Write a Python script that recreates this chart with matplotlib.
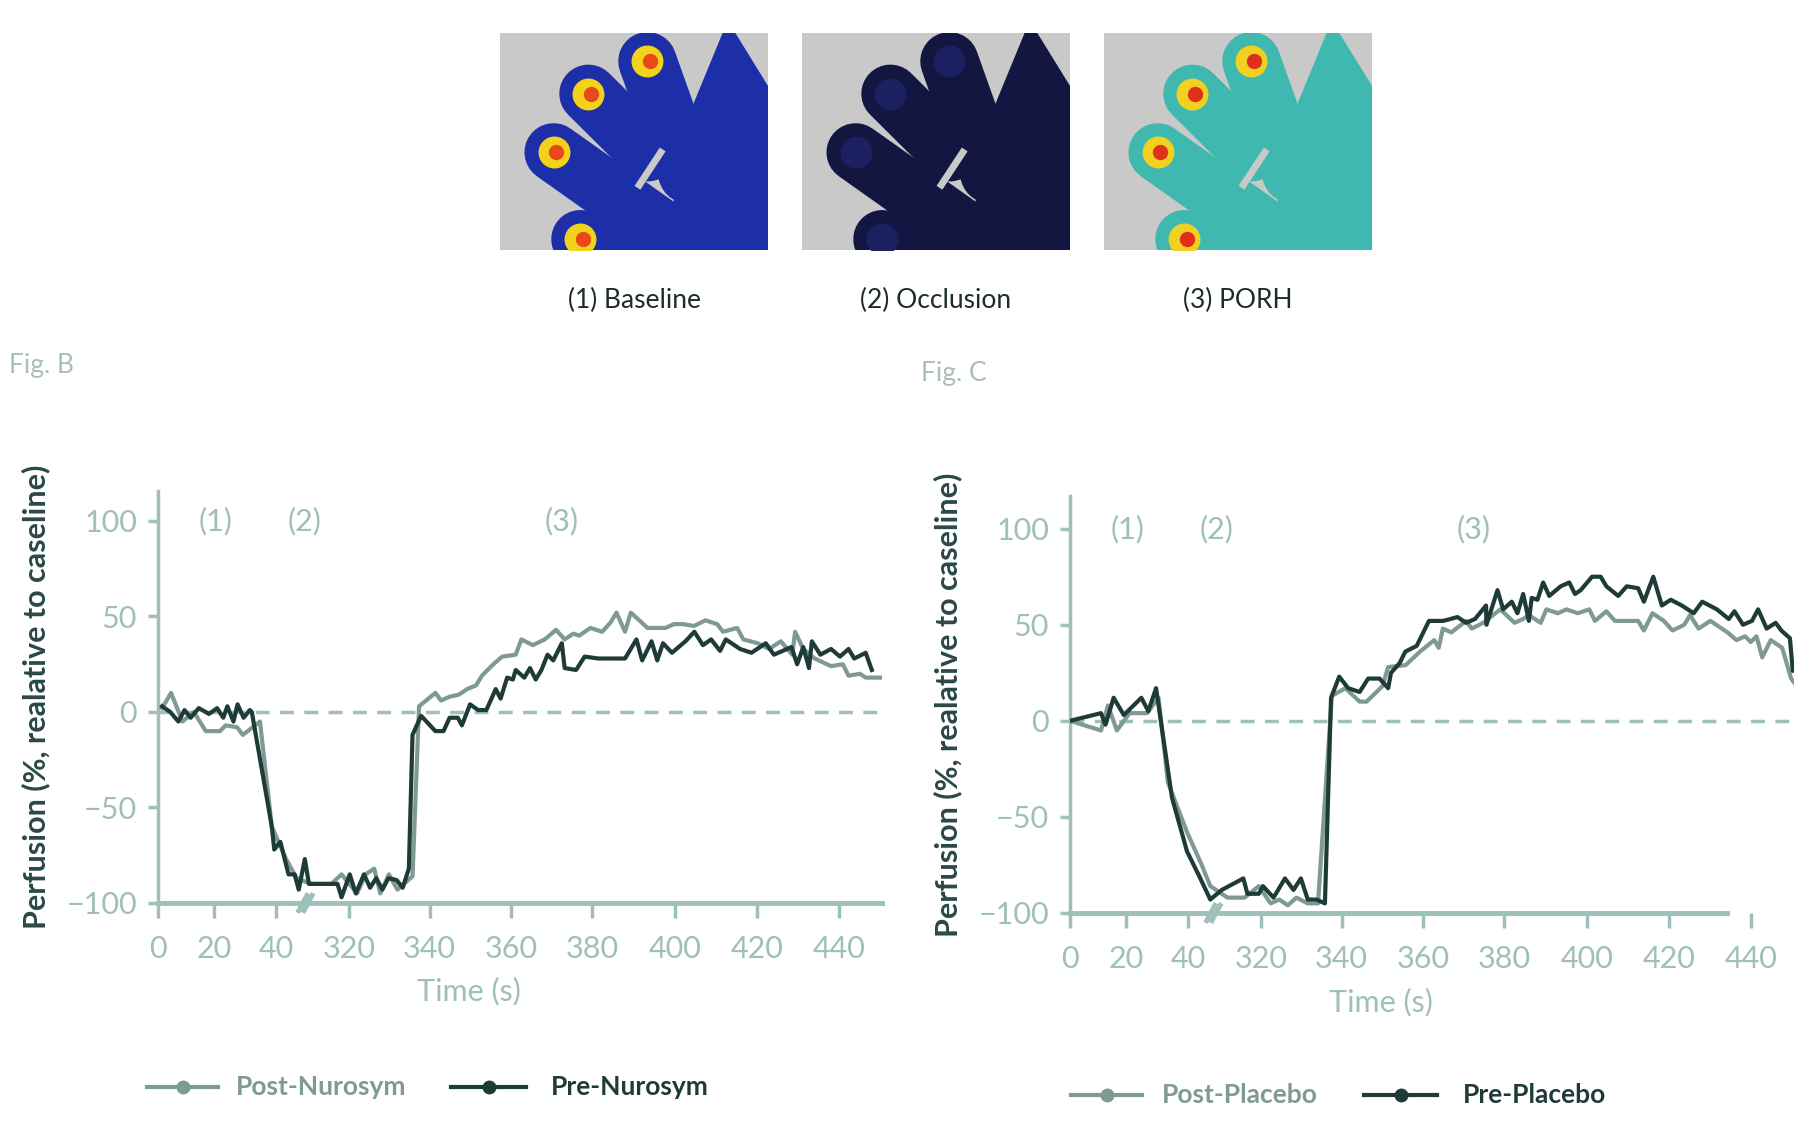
import matplotlib
matplotlib.use("Agg")
import matplotlib.pyplot as plt
from matplotlib.lines import Line2D

plt.rcParams['font.family'] = ['Lato', 'DejaVu Sans']

# ---- data (x in broken-axis display units) ----
tick_pos = [0, 13.8, 29.0, 46.9, 66.6, 86.6, 106.5, 126.8, 146.9, 167.0]
tick_lab = ['0', '20', '40', '320', '340', '360', '380', '400', '420', '440']

b_pre_x = [1, 3, 5, 6.5, 8, 10, 12.5, 14.5, 16, 17, 18.5, 19.5, 21, 22.5, 23, 27.9, 28.5, 30, 32, 33.5, 34.5, 36, 37, 40, 44, 45, 47, 48.5, 50.5, 52, 53.5, 55, 56.5, 58.5, 60, 61.5, 62.4, 64.5, 68, 70, 71.5, 73.5, 74.5, 76.5, 78.5, 80.5, 82.8, 84, 85.6, 87, 87.7, 89.8, 91.2, 92.6, 94, 95.5, 96.9, 99, 99.7, 102.5, 104.6, 108, 114.5, 117.3, 118.7, 121, 122.4, 123.8, 126, 129.3, 131.5, 133.6, 135.6, 137.8, 139.2, 142.7, 145.5, 149, 151, 155.3, 156.7, 158.2, 159.6, 160.3, 162.4, 165, 167.2, 169.3, 170.7, 173.5, 175]
b_pre_y = [3, 0, -5, 1, -3, 2, -1, 2, -3, 3, -5, 4, -3, 1, 0, -60, -72, -68, -85, -85, -93, -77, -90, -90, -90, -97, -85, -95, -85, -92, -87, -93, -87, -88, -92, -82, -12, -2, -10, -10, -3, -3, -7, 4, 1, 1, 12, 7, 18, 17, 22, 18, 23, 17, 22, 30, 27, 36, 23, 22, 29, 28, 28, 38, 27, 37, 27, 36, 31, 37, 42, 35, 38, 32, 38, 33, 31, 36, 30, 34, 25, 34, 23, 37, 30, 33, 29, 33, 28, 31, 22]

b_post_x = [1, 3.2, 6, 8.8, 11.7, 15.2, 16.6, 19.4, 20.8, 25, 27.9, 31.4, 34, 37.5, 42.5, 45, 48.8, 50.9, 53, 54.5, 56.6, 58.7, 62.4, 64, 68, 69.4, 71.5, 73.7, 75.8, 78, 79.4, 82.2, 84.4, 87.7, 89.1, 91.9, 94.8, 97.6, 99.7, 101.8, 103.3, 106, 108.9, 111, 112.4, 114.5, 115.9, 118, 120, 124.4, 126.5, 128.7, 131.4, 134.2, 137.1, 138.5, 142, 143.5, 147, 149.8, 152.7, 155.5, 156.2, 158.2, 161, 165, 167.9, 169.3, 172.1, 173.5, 177]
b_post_y = [2, 10, -5, 0, -10, -10, -7, -8, -12, -5, -60, -77, -87, -90, -90, -85, -95, -85, -82, -95, -85, -93, -86, 3, 10, 6, 8, 9, 12, 14, 19, 25, 29, 30, 38, 35, 38, 43, 38, 41, 40, 44, 42, 47, 52, 42, 52, 48, 44, 44, 46, 46, 45, 48, 46, 42, 44, 38, 36, 33, 37, 30, 42, 33, 28, 24, 25, 19, 20, 18, 18]

c_pre_x = [0, 7.6, 8.7, 10.7, 13.2, 17.5, 19.2, 21.1, 25, 28.7, 31.5, 34.4, 37.2, 42.5, 43.5, 46.3, 47.3, 49.9, 52.7, 54.8, 56.6, 58.3, 60.4, 62.5, 64, 66, 68.2, 71, 73.1, 75.9, 78, 78.7, 80.8, 82.2, 85, 88, 91.5, 95, 97.1, 99.3, 102, 102.1, 104.8, 106.2, 108.3, 109.7, 111.1, 112.5, 113.2, 114.6, 116, 117.5, 120.3, 122.4, 123.8, 125.2, 128, 130.1, 131.5, 134.4, 136.5, 139.3, 140.7, 143, 145.1, 147.3, 150, 152.9, 155, 158.6, 161.5, 162.9, 165, 167.2, 168.7, 170.8, 173, 174.4, 176.5, 177.2, 177.9]
c_pre_y = [0, 4, -2, 12, 3, 12, 5, 17, -40, -68, -80, -93, -88, -82, -90, -90, -86, -92, -82, -88, -82, -93, -93, -95, 12, 23, 17, 15, 22, 22, 17, 25, 30, 36, 39, 52, 52, 54, 51, 53, 60, 50, 68, 58, 62, 56, 66, 52, 64, 63, 72, 65, 70, 72, 66, 68, 75, 75, 70, 65, 70, 69, 62, 75, 60, 63, 60, 56, 62, 58, 53, 57, 50, 52, 58, 48, 51, 47, 43, 26, 28]

c_post_x = [0, 7.6, 9.3, 11.5, 14.6, 18.9, 21.7, 24, 28.7, 32.1, 34.4, 38.6, 42.8, 46.3, 49.2, 51.3, 53.4, 55.5, 58.3, 60.8, 64.2, 67.5, 71, 72.7, 76.6, 78, 82.3, 85.8, 89.3, 90.4, 91.4, 93.5, 97.1, 98.5, 101.3, 105.5, 109, 111.1, 112.5, 115.4, 116.8, 119.6, 121.7, 124.5, 127.3, 128.7, 131.5, 133.6, 139.3, 140.7, 142.8, 145.6, 147.7, 150.6, 152, 154.1, 157, 159.8, 161.2, 163.4, 165.5, 166.9, 168.3, 169.7, 171.8, 174.6, 176.8, 178.2]
c_post_y = [0, -5, 8, -5, 4, 4, 12, -32, -58, -74, -86, -92, -92, -86, -95, -93, -96, -92, -95, -95, 13, 17, 10, 10, 18, 28, 29, 36, 42, 38, 48, 46, 52, 48, 51, 58, 51, 53, 55, 51, 58, 56, 58, 56, 58, 52, 57, 52, 52, 47, 56, 52, 47, 50, 55, 48, 52, 48, 46, 42, 44, 41, 44, 33, 42, 38, 22, 18]

LIGHT = '#9fbfba'
POST = '#7f9994'
PRE = '#1f3b38'
TXT = '#2a4946'

fig = plt.figure(figsize=(18, 11.31), dpi=100)

# ---- schematic image panels ----
panels = [(500 / 1800, '(1) Baseline', 'base'), (802 / 1800, '(2) Occlusion', 'occ'), (1104 / 1800, '(3) PORH', 'porh')]
for x0, lab, kind in panels:
    a = fig.add_axes([x0, 881 / 1131, 268 / 1800, 217 / 1131])
    a.set_xlim(0, 1); a.set_ylim(0, 1); a.axis('off')
    a.add_patch(plt.Rectangle((0, 0), 1, 1, color='#c9c9c9'))
    if kind == 'base':
        body, tip1, tip2 = '#1c2fa8', '#f2d21b', '#e8481a'
    elif kind == 'occ':
        body, tip1, tip2 = '#121640', '#1a2060', '#1a2060'
    else:
        body, tip1, tip2 = '#3fb8b0', '#f0d020', '#e0301a'
    fingers = [((0.55, 0.45), (0.33, 0.72)), ((0.7, 0.35), (0.55, 0.87)),
               ((0.6, 0.1), (0.2, 0.45)), ((0.5, -0.1), (0.3, 0.05))]
    a.add_patch(plt.Polygon([(0.62, 0), (1, 0), (1, 0.75), (0.85, 1.05), (0.7, 0.6)], color=body))
    for (xa, ya), (xb, yb) in fingers:
        a.plot([xa, xb], [ya, yb], color=body, lw=42, solid_capstyle='round')
        a.plot([xb], [yb], 'o', ms=22, color=tip1)
        a.plot([xb + 0.01], [yb], 'o', ms=10, color=tip2)
    a.plot([0.52, 0.6], [0.3, 0.45], color='#c9c9c9', lw=5)
    fig.text(x0 + 134 / 1800, 1 - 300 / 1131, lab, ha='center', va='center', fontsize=19, color='#1d2b2a')


def make_chart(rect, ytop, spine_end, pre_x, pre_y, post_x, post_y, brk):
    ax = fig.add_axes(rect)
    ax.set_xlim(0, 177.5)
    ax.set_ylim(-100, ytop)
    ax.plot(post_x, post_y, color=POST, lw=3, zorder=3)
    ax.plot(pre_x, pre_y, color=PRE, lw=3, zorder=4)
    ax.axhline(0, color=LIGHT, lw=2.5, ls=(0, (4, 3)), zorder=1)
    for s in ['top', 'right', 'bottom']:
        ax.spines[s].set_visible(False)
    ax.spines['left'].set_color(LIGHT)
    ax.spines['left'].set_linewidth(2.5)
    ax.plot([0, spine_end], [-100, -100], color=LIGHT, lw=3.5, clip_on=False, zorder=2)
    ax.set_yticks([-100, -50, 0, 50, 100])
    ax.set_yticklabels(['\u2212100', '\u221250', '0', '50', '100'])
    ax.tick_params(axis='y', colors=LIGHT, labelsize=22, length=7, width=2.5, pad=8)
    ax.set_xticks(tick_pos)
    ax.set_xticklabels(tick_lab)
    ax.tick_params(axis='x', colors=LIGHT, labelsize=22, length=11, width=2.5, pad=12)
    ax.set_xlabel('Time (s)', color=LIGHT, fontsize=22)
    ax.xaxis.set_label_coords(0.43, -0.18)
    ax.set_ylabel('Perfusion (%, realative to caseline)', color=TXT, fontsize=22, fontweight='bold', labelpad=12)
    for t, xx in zip(['(1)', '(2)', '(3)'], [14, 36, 99]):
        ax.text(xx, 100, t, color=LIGHT, fontsize=22, ha='center', va='center')
    for dx in (0, 1.3):
        ax.plot([brk + dx, brk + 2 + dx], [-104, -96], color=LIGHT, lw=3.5, clip_on=False, zorder=5)
    return ax


axB = make_chart([158 / 1800, 228 / 1131, 724 / 1800, 412 / 1131], 115.7, 177.5,
                 b_pre_x, b_pre_y, b_post_x, b_post_y, 34.5)
axC = make_chart([1070 / 1800, 218 / 1131, 724 / 1800, 417 / 1131], 117, 161,
                 c_pre_x, c_pre_y, c_post_x, c_post_y, 33.5)

fig.text(9 / 1800, 1 - 365 / 1131, 'Fig. B', color='#a9bdba', fontsize=19, va='center')
fig.text(921 / 1800, 1 - 373 / 1131, 'Fig. C', color='#a9bdba', fontsize=19, va='center')


def legend_item(x1, x2, y, col, text, tx):
    yy = 1 - y / 1131
    fig.add_artist(Line2D([x1 / 1800, x2 / 1800], [yy, yy], color=col, lw=3))
    fig.add_artist(Line2D([(x1 + x2) / 3600], [yy], marker='o', ms=9, color=col))
    fig.text(tx / 1800, yy, text, color=col, fontsize=19, fontweight='bold', va='center')


legend_item(147, 218, 1087, POST, 'Post-Nurosym', 236)
legend_item(451, 526, 1087, PRE, 'Pre-Nurosym', 551)
legend_item(1071, 1142, 1095, POST, 'Post-Placebo', 1162)
legend_item(1364, 1437, 1095, PRE, 'Pre-Placebo', 1463)

fig.savefig('out.png', dpi=100, facecolor='white')
